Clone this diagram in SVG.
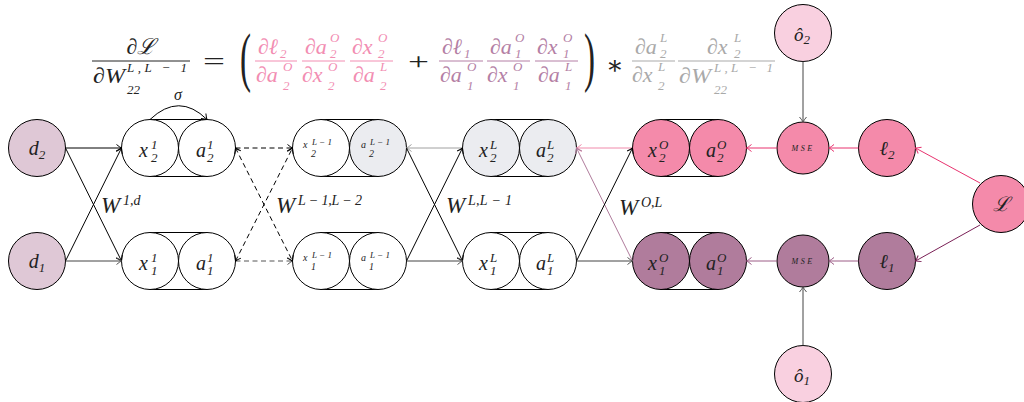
<svg xmlns="http://www.w3.org/2000/svg" width="1024" height="402" viewBox="0 0 1024 402">
<style>
.n{stroke:#000;stroke-width:1}
.w{fill:#fff}
.d{fill:#dfc8d6}
.g{fill:#ebecf0}
.p{fill:#f48aaa}
.v{fill:#b07c9c}
.lp{fill:#f9d0e0}
.cap{stroke:#000;stroke-width:1}
.m{font-family:"Liberation Serif","DejaVu Serif",serif;font-style:italic;fill:#222}
.r{font-family:"Liberation Serif","DejaVu Serif",serif;fill:#222}
.M{font-size:20px}
.S{font-size:13px}
.t{font-size:10px}
.tt{font-size:9px}
.F{font-size:22px}
.Fs{font-size:13px}
.pk{fill:#f28db2}
.mv{fill:#b47fa5}
.gr{fill:#a9a9a9}
.e{fill:none;stroke-width:1}
</style>
<defs>
<marker id="ak" viewBox="-6 -5 7 10" refX="0" refY="0" markerWidth="7" markerHeight="10" markerUnits="userSpaceOnUse" orient="auto-start-reverse"><path d="M-5,-3.5 Q-2,-1 0,0 Q-2,1 -5,3.5" fill="none" stroke="#000" stroke-width="1"/></marker>
<marker id="adk" viewBox="-6 -5 7 10" refX="0" refY="0" markerWidth="7" markerHeight="10" markerUnits="userSpaceOnUse" orient="auto-start-reverse"><path d="M-5,-3.5 Q-2,-1 0,0 Q-2,1 -5,3.5" fill="none" stroke="#555" stroke-width="1"/></marker>
<marker id="ag" viewBox="-6 -5 7 10" refX="0" refY="0" markerWidth="7" markerHeight="10" markerUnits="userSpaceOnUse" orient="auto"><path d="M-5,-3.5 Q-2,-1 0,0 Q-2,1 -5,3.5" fill="none" stroke="#a0a0a0" stroke-width="1"/></marker>
<marker id="ap" viewBox="-6 -5 7 10" refX="0" refY="0" markerWidth="7" markerHeight="10" markerUnits="userSpaceOnUse" orient="auto"><path d="M-5,-3.5 Q-2,-1 0,0 Q-2,1 -5,3.5" fill="none" stroke="#e8336f" stroke-width="1"/></marker>
<marker id="alp" viewBox="-6 -5 7 10" refX="0" refY="0" markerWidth="7" markerHeight="10" markerUnits="userSpaceOnUse" orient="auto"><path d="M-5,-3.5 Q-2,-1 0,0 Q-2,1 -5,3.5" fill="none" stroke="#f08aab" stroke-width="1"/></marker>
<marker id="amv" viewBox="-6 -5 7 10" refX="0" refY="0" markerWidth="7" markerHeight="10" markerUnits="userSpaceOnUse" orient="auto"><path d="M-5,-3.5 Q-2,-1 0,0 Q-2,1 -5,3.5" fill="none" stroke="#b07c9c" stroke-width="1"/></marker>
<marker id="amv2" viewBox="-6 -5 7 10" refX="0" refY="0" markerWidth="7" markerHeight="10" markerUnits="userSpaceOnUse" orient="auto"><path d="M-5,-3.5 Q-2,-1 0,0 Q-2,1 -5,3.5" fill="none" stroke="#9c5c86" stroke-width="1"/></marker>
<marker id="adp" viewBox="-6 -5 7 10" refX="0" refY="0" markerWidth="7" markerHeight="10" markerUnits="userSpaceOnUse" orient="auto"><path d="M-5,-3.5 Q-2,-1 0,0 Q-2,1 -5,3.5" fill="none" stroke="#7a2056" stroke-width="1"/></marker>
</defs>

<g id="formula">
<text class="m F" x="141" y="54" text-anchor="middle">∂ℒ</text>
<line x1="92" y1="61" x2="190" y2="61" stroke="#222" stroke-width="1"/>
<text class="m F" x="93" y="83" textLength="32" lengthAdjust="spacingAndGlyphs">∂W</text>
<text class="m Fs" x="127" y="72" textLength="60" lengthAdjust="spacing">L,L − 1</text>
<text class="m Fs" x="127" y="94">22</text>
<text class="r" x="203" y="69" font-size="24" textLength="22" lengthAdjust="spacingAndGlyphs">=</text>
<text class="r" font-size="66" transform="translate(240,79) scale(0.5,1)">(</text>

<text class="m F pk" x="258" y="54">∂ℓ</text><text class="m Fs pk" x="280" y="58">2</text>
<line x1="255" y1="61" x2="297" y2="61" stroke="#f28db2"/>
<text class="m F pk" x="256" y="82">∂a</text><text class="m Fs pk" x="283" y="71">O</text><text class="m Fs pk" x="283" y="90">2</text>

<text class="m F pk" x="305" y="54">∂a</text><text class="m Fs pk" x="330" y="42">O</text><text class="m Fs pk" x="330" y="58">2</text>
<line x1="302" y1="61" x2="345" y2="61" stroke="#f28db2"/>
<text class="m F pk" x="302" y="82">∂x</text><text class="m Fs pk" x="328" y="71">O</text><text class="m Fs pk" x="328" y="90">2</text>

<text class="m F pk" x="352" y="54">∂x</text><text class="m Fs pk" x="378" y="42">O</text><text class="m Fs pk" x="378" y="58">2</text>
<line x1="350" y1="61" x2="393" y2="61" stroke="#f28db2"/>
<text class="m F pk" x="353" y="82">∂a</text><text class="m Fs pk" x="380" y="71">L</text><text class="m Fs pk" x="380" y="90">2</text>

<text class="r" x="408" y="69" font-size="24" textLength="21" lengthAdjust="spacingAndGlyphs">+</text>

<text class="m F mv" x="442" y="54">∂ℓ</text><text class="m Fs mv" x="464" y="58">1</text>
<line x1="439" y1="61" x2="483" y2="61" stroke="#b47fa5"/>
<text class="m F mv" x="440" y="82">∂a</text><text class="m Fs mv" x="467" y="71">O</text><text class="m Fs mv" x="467" y="90">1</text>

<text class="m F mv" x="490" y="54">∂a</text><text class="m Fs mv" x="515" y="42">O</text><text class="m Fs mv" x="515" y="58">1</text>
<line x1="487" y1="61" x2="530" y2="61" stroke="#b47fa5"/>
<text class="m F mv" x="487" y="82">∂x</text><text class="m Fs mv" x="513" y="71">O</text><text class="m Fs mv" x="513" y="90">1</text>

<text class="m F mv" x="537" y="54">∂x</text><text class="m Fs mv" x="563" y="42">O</text><text class="m Fs mv" x="563" y="58">1</text>
<line x1="535" y1="61" x2="578" y2="61" stroke="#b47fa5"/>
<text class="m F mv" x="538" y="82">∂a</text><text class="m Fs mv" x="565" y="71">L</text><text class="m Fs mv" x="565" y="90">1</text>

<text class="r" font-size="66" transform="translate(584,79) scale(0.5,1)">)</text>
<text class="r" x="606" y="74" font-size="26">∗</text>

<text class="m F gr" x="635" y="54">∂a</text><text class="m Fs gr" x="660" y="42">L</text><text class="m Fs gr" x="660" y="58">2</text>
<line x1="632" y1="61" x2="675" y2="61" stroke="#a9a9a9"/>
<text class="m F gr" x="632" y="82">∂x</text><text class="m Fs gr" x="658" y="71">L</text><text class="m Fs gr" x="658" y="90">2</text>

<text class="m F gr" x="707" y="54">∂x</text><text class="m Fs gr" x="734" y="42">L</text><text class="m Fs gr" x="734" y="58">2</text>
<line x1="678" y1="61" x2="775" y2="61" stroke="#a9a9a9"/>
<text class="m F gr" x="679" y="83" textLength="32" lengthAdjust="spacingAndGlyphs">∂W</text>
<text class="m Fs gr" x="714" y="72" textLength="59" lengthAdjust="spacing">L,L − 1</text>
<text class="m Fs gr" x="714" y="94">22</text>
</g>

<g id="d2"><circle class="n d" cx="37" cy="148" r="28.5"/><text class="m M" x="37" y="155" text-anchor="middle">d<tspan class="S" dy="4">2</tspan></text></g>
<g id="d1"><circle class="n d" cx="37" cy="261" r="28.5"/><text class="m M" x="37" y="268" text-anchor="middle">d<tspan class="S" dy="4">1</tspan></text></g>

<g id="layer1-top">
<line class="cap" x1="150" y1="119.5" x2="207" y2="119.5"/><line class="cap" x1="150" y1="176.5" x2="207" y2="176.5"/>
<circle class="n w" cx="150" cy="148" r="28.5"/><circle class="n w" cx="207" cy="148" r="28.5"/>
<text class="m M" x="139" y="157">x</text><text class="m S" x="151" y="149">1</text><text class="m S" x="151" y="162">2</text>
<text class="m M" x="196" y="157">a</text><text class="m S" x="207" y="149">1</text><text class="m S" x="207" y="162">2</text>
</g>
<g id="layer1-bot">
<line class="cap" x1="150" y1="232.5" x2="207" y2="232.5"/><line class="cap" x1="150" y1="289.5" x2="207" y2="289.5"/>
<circle class="n w" cx="150" cy="261" r="28.5"/><circle class="n w" cx="207" cy="261" r="28.5"/>
<text class="m M" x="139" y="270">x</text><text class="m S" x="151" y="262">1</text><text class="m S" x="151" y="275">1</text>
<text class="m M" x="196" y="270">a</text><text class="m S" x="207" y="262">1</text><text class="m S" x="207" y="275">1</text>
</g>

<g id="layerL1-top">
<line class="cap" x1="321" y1="119.5" x2="378" y2="119.5"/><line class="cap" x1="321" y1="176.5" x2="378" y2="176.5"/>
<circle class="n w" cx="321" cy="148" r="28.5"/><circle class="n g" cx="378" cy="148" r="28.5"/>
<text class="m t" x="303" y="148">x</text><text class="m tt" x="312" y="145">L − 1</text><text class="m t" x="311" y="157">2</text>
<text class="m t" x="361" y="148">a</text><text class="m tt" x="370" y="145">L − 1</text><text class="m t" x="369" y="157">2</text>
</g>
<g id="layerL1-bot">
<line class="cap" x1="321" y1="232.5" x2="378" y2="232.5"/><line class="cap" x1="321" y1="289.5" x2="378" y2="289.5"/>
<circle class="n w" cx="321" cy="261" r="28.5"/><circle class="n w" cx="378" cy="261" r="28.5"/>
<text class="m t" x="303" y="261">x</text><text class="m tt" x="312" y="258">L − 1</text><text class="m t" x="311" y="270">1</text>
<text class="m t" x="361" y="261">a</text><text class="m tt" x="370" y="258">L − 1</text><text class="m t" x="369" y="270">1</text>
</g>

<g id="layerL-top">
<line class="cap" x1="491" y1="119.5" x2="548" y2="119.5"/><line class="cap" x1="491" y1="176.5" x2="548" y2="176.5"/>
<circle class="n g" cx="491" cy="148" r="28.5"/><circle class="n g" cx="548" cy="148" r="28.5"/>
<text class="m M" x="479" y="157">x</text><text class="m S" x="490" y="149">L</text><text class="m S" x="490" y="162">2</text>
<text class="m M" x="536" y="157">a</text><text class="m S" x="547" y="149">L</text><text class="m S" x="547" y="162">2</text>
</g>
<g id="layerL-bot">
<line class="cap" x1="491" y1="232.5" x2="548" y2="232.5"/><line class="cap" x1="491" y1="289.5" x2="548" y2="289.5"/>
<circle class="n w" cx="491" cy="261" r="28.5"/><circle class="n w" cx="548" cy="261" r="28.5"/>
<text class="m M" x="479" y="270">x</text><text class="m S" x="490" y="262">L</text><text class="m S" x="490" y="275">1</text>
<text class="m M" x="536" y="270">a</text><text class="m S" x="547" y="262">L</text><text class="m S" x="547" y="275">1</text>
</g>

<g id="layerO-top">
<line class="cap" x1="661" y1="119.5" x2="718" y2="119.5"/><line class="cap" x1="661" y1="176.5" x2="718" y2="176.5"/>
<circle class="n p" cx="661" cy="148" r="28.5"/><circle class="n p" cx="718" cy="148" r="28.5"/>
<text class="m M" x="648" y="157">x</text><text class="m S" x="659" y="149">O</text><text class="m S" x="659" y="162">2</text>
<text class="m M" x="706" y="157">a</text><text class="m S" x="717" y="149">O</text><text class="m S" x="717" y="162">2</text>
</g>
<g id="layerO-bot">
<line class="cap" x1="661" y1="232.5" x2="718" y2="232.5"/><line class="cap" x1="661" y1="289.5" x2="718" y2="289.5"/>
<circle class="n v" cx="661" cy="261" r="28.5"/><circle class="n v" cx="718" cy="261" r="28.5"/>
<text class="m M" x="648" y="270">x</text><text class="m S" x="659" y="262">O</text><text class="m S" x="659" y="275">1</text>
<text class="m M" x="706" y="270">a</text><text class="m S" x="717" y="262">O</text><text class="m S" x="717" y="275">1</text>
</g>

<g id="mse2"><circle class="n p" cx="803" cy="148" r="26"/><text class="m" x="803" y="151" font-size="8" letter-spacing="2.5" text-anchor="middle">MSE</text></g>
<g id="mse1"><circle class="n v" cx="803" cy="261" r="26"/><text class="m" x="803" y="264" font-size="8" letter-spacing="2.5" text-anchor="middle">MSE</text></g>
<g id="l2"><circle class="n p" cx="887" cy="148" r="28.5"/><text class="m M" x="887" y="155" text-anchor="middle">ℓ<tspan class="S" dy="4">2</tspan></text></g>
<g id="l1"><circle class="n v" cx="887" cy="261" r="28.5"/><text class="m M" x="887" y="268" text-anchor="middle">ℓ<tspan class="S" dy="4">1</tspan></text></g>
<g id="L"><circle class="n p" cx="1001" cy="204" r="28.5"/><text class="m M" x="1001" y="211" text-anchor="middle">ℒ</text></g>
<g id="o2"><circle class="n lp" cx="803" cy="33" r="28.5"/><text class="m" font-size="19" x="802" y="41" text-anchor="middle">ô<tspan class="S" dy="3">2</tspan></text></g>
<g id="o1"><circle class="n lp" cx="803" cy="374" r="28.5"/><text class="m" font-size="19" x="802" y="382" text-anchor="middle">ô<tspan class="S" dy="3">1</tspan></text></g>

<g id="labels">
<text class="m" font-size="23" x="101" y="213">W</text><text class="m" font-size="14" x="123" y="205">1,d</text>
<text class="m" font-size="23" x="276" y="213">W</text><text class="m" font-size="14" x="298" y="205" textLength="64" lengthAdjust="spacing">L − 1,L − 2</text>
<text class="m" font-size="23" x="446" y="213">W</text><text class="m" font-size="14" x="468" y="205" textLength="44" lengthAdjust="spacing">L,L − 1</text>
<text class="m" font-size="23" x="619" y="215">W</text><text class="m" font-size="14" x="641" y="207">O,L</text>
<text class="m" font-size="16" x="178" y="100" text-anchor="middle">σ</text>
</g>

<g id="connectors">
<path class="e" stroke="#000" d="M150,119.5 Q179,92 207,119.5" marker-end="url(#ak)"/>
<line class="e" stroke="#000" x1="65.5" y1="148" x2="121.5" y2="148" marker-end="url(#ak)"/>
<line class="e" stroke="#000" x1="65.5" y1="148" x2="121.5" y2="261" marker-end="url(#ak)"/>
<line class="e" stroke="#000" x1="65.5" y1="261" x2="121.5" y2="148" marker-end="url(#ak)"/>
<line class="e" stroke="#444" x1="65.5" y1="261" x2="121.5" y2="261" marker-end="url(#adk)"/>

<line class="e" stroke="#000" stroke-dasharray="5,3.5" x1="235.5" y1="148" x2="292.5" y2="148" marker-end="url(#ak)"/>
<line class="e" stroke="#555" stroke-dasharray="5,3.5" x1="235.5" y1="261" x2="292.5" y2="261" marker-end="url(#adk)"/>
<line class="e" stroke="#000" stroke-dasharray="5,3.5" x1="235.5" y1="148" x2="292.5" y2="261" marker-start="url(#ak)" marker-end="url(#ak)"/>
<line class="e" stroke="#000" stroke-dasharray="5,3.5" x1="235.5" y1="261" x2="292.5" y2="148" marker-start="url(#ak)" marker-end="url(#ak)"/>

<line class="e" stroke="#a0a0a0" x1="462.5" y1="148" x2="406.5" y2="148" marker-end="url(#ag)"/>
<line class="e" stroke="#000" x1="406.5" y1="148" x2="462.5" y2="261" marker-end="url(#ak)"/>
<line class="e" stroke="#000" x1="406.5" y1="261" x2="462.5" y2="148" marker-end="url(#ak)"/>
<line class="e" stroke="#444" x1="406.5" y1="261" x2="462.5" y2="261" marker-end="url(#adk)"/>

<line class="e" stroke="#f08aab" x1="632.5" y1="148" x2="576.5" y2="148" marker-end="url(#alp)"/>
<line class="e" stroke="#b07c9c" x1="632.5" y1="261" x2="576.5" y2="148" marker-end="url(#amv)"/>
<line class="e" stroke="#000" x1="576.5" y1="261" x2="632.5" y2="148" marker-end="url(#ak)"/>
<line class="e" stroke="#444" x1="576.5" y1="261" x2="632.5" y2="261" marker-end="url(#adk)"/>

<line class="e" stroke="#e8336f" x1="777" y1="148" x2="746.5" y2="148" marker-end="url(#ap)"/>
<line class="e" stroke="#e8336f" x1="858.5" y1="148" x2="829" y2="148" marker-end="url(#ap)"/>
<line class="e" stroke="#9c5c86" x1="777" y1="261" x2="746.5" y2="261" marker-end="url(#amv2)"/>
<line class="e" stroke="#9c5c86" x1="858.5" y1="261" x2="829" y2="261" marker-end="url(#amv2)"/>
<line class="e" stroke="#e8336f" x1="980" y1="183" x2="915.5" y2="148" marker-end="url(#ap)"/>
<line class="e" stroke="#7a2056" x1="980" y1="225" x2="915.5" y2="261" marker-end="url(#adp)"/>
<line class="e" stroke="#444" x1="803" y1="61.5" x2="803" y2="122" marker-end="url(#adk)"/>
<line class="e" stroke="#444" x1="803" y1="345.5" x2="803" y2="287" marker-end="url(#adk)"/>
</g>
</svg>
